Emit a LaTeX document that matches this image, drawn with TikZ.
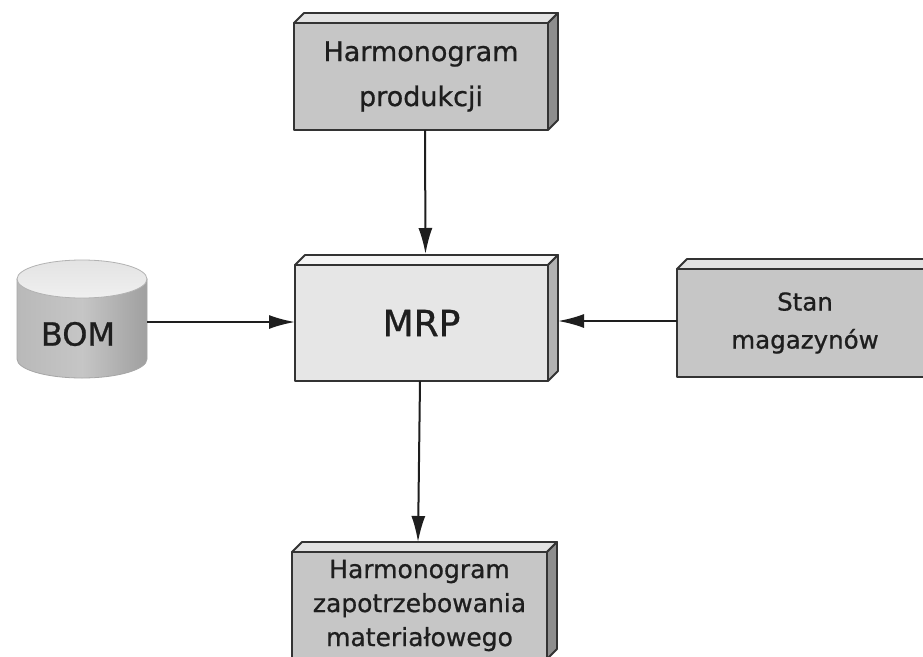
\documentclass[tikz,border=0pt]{standalone}
\usepackage{fontspec}
\setmainfont[FakeBold=0.8]{DejaVu Sans}
\usetikzlibrary{arrows.meta,calc}

\definecolor{inFront}{HTML}{C6C6C6}
\definecolor{inTop}{HTML}{E2E2E2}
\definecolor{inSide}{HTML}{8E8E8E}
\definecolor{mrpFront}{HTML}{E6E6E6}
\definecolor{mrpTop}{HTML}{F5F5F5}
\definecolor{mrpSide}{HTML}{B2B2B2}
\definecolor{edge}{HTML}{333333}
\definecolor{ink}{HTML}{1E1E1E}

% top and right faces of a raised box drawn behind a front-face node
\newcommand\boxfaces[3]{%
  \filldraw[fill=#2, faceline] (#1.north west) -- ++(10,-10)
    -- ($(#1.north east)+(10,-10)$) -- (#1.north east) -- cycle;
  \filldraw[fill=#3, faceline] (#1.north east) -- ++(10,-10)
    -- ($(#1.south east)+(10,-10)$) -- (#1.south east) -- cycle;}

\begin{document}
\begin{tikzpicture}[x=1pt,y=-1pt,
  faceline/.style={draw=edge, line width=1.8pt, line join=round},
  front/.style={rectangle, faceline, inner sep=0pt, outer sep=0pt, align=center, text=ink},
  arr/.style={line width=2pt, draw=ink, -{Latex[length=26pt,width=14pt]}}]
\clip (0,0) rectangle (923,656);
\fill[white] (0,0) rectangle (923,656);

% production schedule (input)
\node[front, fill=inFront, minimum width=254pt, minimum height=107pt,
      font=\fontsize{27}{45}\selectfont] (prod) at (421,76.5)
      {Harmonogram\\produkcji};
\boxfaces{prod}{inTop}{inSide}

% MRP core
\node[front, fill=mrpFront, minimum width=253pt, minimum height=116pt,
      font=\fontsize{36}{40}\selectfont] (mrp) at (421.5,323) {MRP};
\boxfaces{mrp}{mrpTop}{mrpSide}

% inventory (input)
\node[front, fill=inFront, minimum width=256pt, minimum height=108pt,
      font=\fontsize{24.5}{38}\selectfont] (stan) at (805,323)
      {Stan\\magazynów};
\boxfaces{stan}{inTop}{inSide}

% material requirements schedule (output)
\node[front, fill=inFront, minimum width=255pt, minimum height=107pt,
      font=\fontsize{25}{34}\selectfont] (out) at (419.5,605.5)
      {Harmonogram\\zapotrzebowania\\materiałowego};
\boxfaces{out}{inTop}{inSide}

% bill of materials database
\node[minimum width=130pt, minimum height=118pt, inner sep=0pt, outer sep=0pt] (bom) at (82,319) {};
\shade[left color=gray!55, right color=gray!75, middle color=gray!45, draw=gray!70, line width=0.8pt]
  (17,279) -- (17,359) arc[start angle=180, end angle=0, x radius=65, y radius=19]
  -- (147,279) -- cycle;
\shade[top color=gray!22, bottom color=gray!12, draw=gray!60, line width=0.8pt]
  (82,279) ellipse[x radius=65, y radius=19];
\node[font=\fontsize{32}{36}\selectfont, text=ink] (bomtext) at (78,334) {BOM};

% data flow
\draw[arr] ([xshift=4pt]prod.south) -- ([xshift=4pt,yshift=11pt]mrp.north);
\draw[arr] ([yshift=-3pt]bom.east) -- (mrp.west |- 0,322);
\draw[arr] (stan.west |- 0,321) -- ([xshift=10pt]mrp.east |- 0,321);
\draw[arr] ([xshift=-1.5pt]mrp.south) -- ([xshift=-1.5pt,yshift=10pt]out.north);
\end{tikzpicture}
\end{document}
